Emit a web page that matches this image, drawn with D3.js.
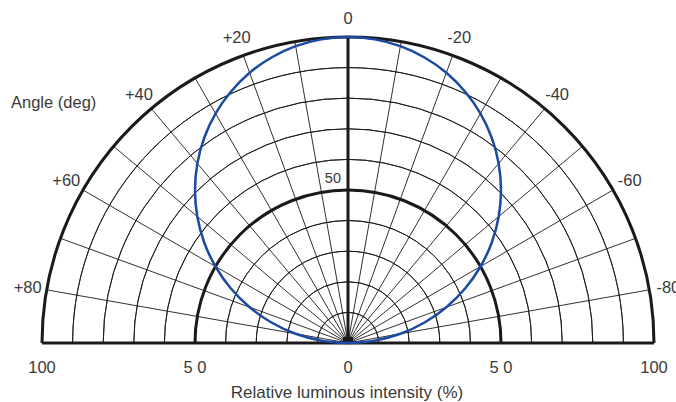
<!DOCTYPE html>
<html>
<head>
<meta charset="utf-8">
<script src="https://cdn.jsdelivr.net/npm/d3@7"></script>
<style>
  body { margin: 0; background: #fff; }
  text { font-family: "Liberation Sans", Arial, sans-serif; fill: #3a3a3a; }
</style>
</head>
<body>
<svg width="676" height="402"></svg>
<script>
// angle (deg, + is left) and relative intensity (%)
var angles = [-90,-85,-80,-75,-70,-65,-60,-55,-50,-45,-40,-35,-30,-25,-20,-15,-10,-5,0,5,10,15,20,25,30,35,40,45,50,55,60,65,70,75,80,85,90];
var intensity = [0,8.7,17.4,25.9,34.2,42.3,50,57.4,64.3,70.7,76.6,81.9,86.6,90.6,94,96.6,98.5,99.6,100,99.6,98.5,96.6,94,90.6,86.6,81.9,76.6,70.7,64.3,57.4,50,42.3,34.2,25.9,17.4,8.7,0];
var rings = [10,20,30,40,50,60,70,80,90,100];
var spokes = [-80,-70,-60,-50,-40,-30,-20,-10,10,20,30,40,50,60,70,80];
var angleLabels = [0,20,40,60,80,-20,-40,-60,-80];
var xTicks = [-100,-50,0,50,100];

var svg = d3.select('svg');
var cx = 348, cy = 343, R = 306;

var r = d3.scaleLinear().domain([0,100]).range([0,R]);
var x = d3.scaleLinear().domain([-100,100]).range([cx-R, cx+R]);
var rad = function(a){ return a*Math.PI/180; };

// polar point: angle + is to the left, 0 is up
function px(a, v){ return cx - r(v)*Math.sin(rad(a)); }
function py(a, v){ return cy - r(v)*Math.cos(rad(a)); }

var g = svg.append('g');

// rings
var arc = d3.arc().startAngle(-Math.PI/2).endAngle(Math.PI/2);
g.selectAll('path.ring').data(rings).enter().append('path')
  .attr('class','ring')
  .attr('transform','translate('+cx+','+cy+')')
  .attr('d', function(d){ return arc({innerRadius:r(d), outerRadius:r(d)}); })
  .attr('fill','none')
  .attr('stroke','#1a1a1a')
  .attr('stroke-width', function(d){ return d%50===0 ? 3 : 0.9; });

// spokes
g.selectAll('line.spoke').data(spokes).enter().append('line')
  .attr('x1',cx).attr('y1',cy)
  .attr('x2',function(d){ return px(d,100); })
  .attr('y2',function(d){ return py(d,100); })
  .attr('stroke','#1a1a1a').attr('stroke-width',0.9);

// main axes
g.append('line').attr('x1',x(-100)).attr('x2',x(100)).attr('y1',cy).attr('y2',cy)
  .attr('stroke','#1a1a1a').attr('stroke-width',3);
g.append('line').attr('x1',cx).attr('x2',cx).attr('y1',cy).attr('y2',py(0,100))
  .attr('stroke','#1a1a1a').attr('stroke-width',3);
g.append('rect').attr('x',cx-5).attr('y',cy-6).attr('width',10).attr('height',7).attr('fill','#1a1a1a');

// curve
var line = d3.lineRadial()
  .angle(function(d,i){ return -rad(angles[i]); })
  .radius(function(d){ return r(d); })
  .curve(d3.curveCatmullRom);
svg.append('path').datum(intensity)
  .attr('transform','translate('+cx+','+cy+')')
  .attr('d', line)
  .attr('fill','none')
  .attr('stroke','#1c4aa0')
  .attr('stroke-width',2.5);

// angle labels
svg.selectAll('text.ang').data(angleLabels).enter().append('text')
  .attr('class','ang')
  .attr('x',function(d){ return px(d,106.3); })
  .attr('y',function(d){ return py(d,106.3); })
  .attr('text-anchor','middle')
  .attr('dominant-baseline','central')
  .attr('font-size',16.5)
  .text(function(d){ return d>0 ? '+'+d : String(d); });

svg.append('text').attr('x',cx-7).attr('y',py(0,50)-7)
  .attr('text-anchor','end').attr('font-size',14.5).text('50');

svg.append('text').attr('x',11).attr('y',108).attr('font-size',16.5).text('Angle (deg)');

// bottom axis labels
svg.selectAll('text.xt').data(xTicks).enter().append('text')
  .attr('class','xt')
  .attr('x',function(d){ return x(d); })
  .attr('y',373)
  .attr('text-anchor','middle')
  .attr('font-size',16.5)
  .text(function(d){ return Math.abs(d)===50 ? '5 0' : String(Math.abs(d)); });

svg.append('text').attr('x',cx-1).attr('y',398).attr('text-anchor','middle')
  .attr('font-size',17).text('Relative luminous intensity (%)');
</script>
</body>
</html>
